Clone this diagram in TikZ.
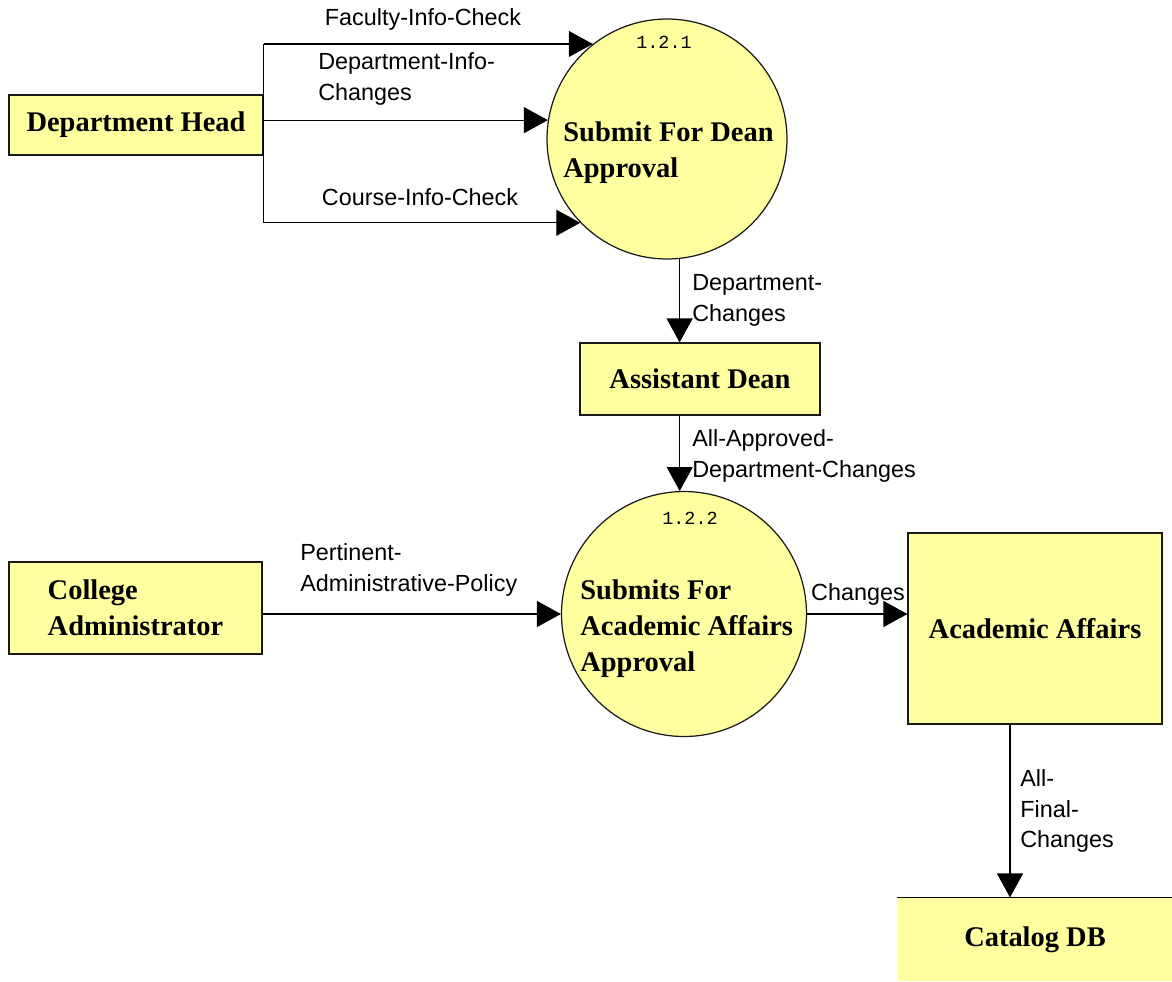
\documentclass[tikz,border=0pt]{standalone}
\usepackage{fontspec}
\setmainfont{Liberation Serif}
\setsansfont{Liberation Sans}
\setmonofont{Liberation Mono}
\usepackage{tikz}
\usetikzlibrary{arrows.meta,calc,positioning,shapes.geometric}
\definecolor{dfdfill}{HTML}{FFFFA0}

\begin{document}
\begin{tikzpicture}[x=0.02cm,y=-0.02cm]
    \tikzset{entity/.style= {draw=black!90,
        line width = 0.7pt,
        fill       = dfdfill,
        rectangle,
        align      = left,
        inner sep  = 0pt,
        font       = \bfseries\fontsize{16.2}{20.5}\selectfont},
      process/.style = {draw=black!90, line width=0.7pt, fill=dfdfill,
        circle, minimum size=4.8cm, inner sep=0pt},
      proclabel/.style = {anchor=west, align=left, inner sep=0pt,
        font=\bfseries\fontsize{16.2}{20.5}\selectfont},
      procnum/.style = {font=\ttfamily\fontsize{10.5}{11}\selectfont},
      flowlabel/.style = {align=left, inner sep=0pt,
        font=\sffamily\fontsize{13.3}{17.6}\selectfont},
      wire/.style = {draw=black, line width=0.7pt},
      flow/.style = {wire, -{Triangle[length=0.48cm,width=0.52cm]}}}
    \useasboundingbox (0,0) rectangle (1172,981);
    \node[entity, minimum width=5.08cm, minimum height=1.2cm] (dh) at (136,125) {Department Head};
    \node[process] (c1) at (667,139) {};
    \node[procnum] (n1) at (664,42) {1.2.1};
    \node[proclabel] (t1) at (563,153) {Submit For Dean\\Approval};
    \node[entity, minimum width=4.8cm, minimum height=1.44cm] (ad) at (700,379) {Assistant Dean};
    \node[process, minimum size=4.9cm] (c2) at (684,614) {};
    \node[procnum] (n2) at (690,518) {1.2.2};
    \node[proclabel] (t2) at (580,629) {Submits For\\Academic Affairs\\Approval};
    \node[entity, minimum width=5.06cm, minimum height=1.84cm] (ca) at (135.5,608) {College\\Administrator};
    \node[entity, minimum width=5.08cm, minimum height=3.82cm] (aa) at (1035,628.5) {Academic Affairs};
    \node[entity, draw=none, minimum width=5.48cm, minimum height=1.66cm] (cat) at (1035,939.5) {Catalog DB};
    \draw[wire] (cat.north west) -- (cat.north east);
    \draw[wire] (c1.128 -| dh.east) -- (c1.224 -| dh.east);
    \draw[flow] (c1.128 -| dh.east) -- (c1.128);
    \draw[flow] (c1.171 -| dh.east) -- (c1.171);
    \draw[flow] (c1.224 -| dh.east) -- (c1.224);
    \draw[flow] (c1.276) -- (c1.276 |- ad.north);
    \draw[flow] (c2.92 |- ad.south) -- (c2.92);
    \draw[flow] (c2.west -| ca.east) -- (c2.west);
    \draw[flow] (c2.east) -- (c2.east -| aa.west);
    \coordinate (aaout) at ($(aa.south)+(-25,0)$);
    \draw[flow] (aaout) -- (aaout |- cat.north);
    \node[flowlabel] (l1) at (423,19) {Faculty-Info-Check};
    \node[flowlabel, anchor=west] (l2) at (318,79) {Department-Info-\\Changes};
    \node[flowlabel] (l3) at (420,197) {Course-Info-Check};
    \node[flowlabel, anchor=west] (l4) at (692,300) {Department-\\Changes};
    \node[flowlabel, anchor=west] (l5) at (692,456) {All-Approved-\\Department-Changes};
    \node[flowlabel, anchor=west] (l6) at (300,570) {Pertinent-\\Administrative-Policy};
    \node[flowlabel] (l7) at (858,594) {Changes};
    \node[flowlabel, anchor=west] (l8) at (1020,811) {All-\\Final-\\Changes};
\end{tikzpicture}
\end{document}
